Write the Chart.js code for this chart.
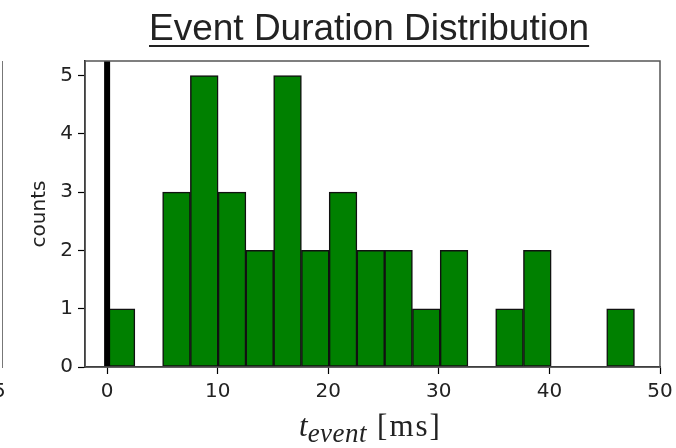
<!DOCTYPE html>
<html>
<head>
<meta charset="utf-8">
<script src="https://cdn.jsdelivr.net/npm/chart.js@4/dist/chart.umd.min.js"></script>
<style>
    html, body { margin: 0; padding: 0; background: #fff; }
    #wrap { position: relative; width: 676px; height: 448px; overflow: hidden; }
    #chart { position: absolute; left: 0; top: 0; }
    #title {
        position: absolute; left: 149px; top: 7px; white-space: nowrap;
        font-family: 'Liberation Sans', Arial, sans-serif; font-size: 37px; color: #222;
        text-decoration: underline; text-underline-offset: 5px; text-decoration-thickness: 2px;
    }
    #xlabel {
        position: absolute; left: 299px; top: 408px; white-space: nowrap;
        font-family: 'Liberation Serif', serif; color: #222;
    }
    #xlabel .t { font-style: italic; font-size: 31px; }
    #xlabel sub { font-style: italic; font-size: 27px; vertical-align: -6px; letter-spacing: 0.5px; }
    #xlabel .u { font-size: 31px; letter-spacing: 2px; margin-left: 6px; }
    #leftAxis { position: absolute; left: 2px; top: 61px; height: 307px; border-left: 1.5px solid #777; }
    #leftTick { position: absolute; left: -7px; top: 378px; font-family: 'DejaVu Sans', sans-serif; font-size: 20px; color: #222; }
</style>
</head>
<body>
<div id="wrap">
    <canvas id="chart" width="676" height="448"></canvas>
    <div id="leftAxis"></div>
    <div id="leftTick">5</div>
    <div id="title">Event Duration Distribution</div>
    <div id="xlabel"><span class="t">t</span><sub>event</sub> <span class="u">[ms]</span></div>
</div>
<script>
// histogram bins (left edges, ms) and counts
const binLeft = [0.00, 2.51, 5.02, 7.53, 10.04, 12.55, 15.06, 17.57, 20.08, 22.59,
                 25.10, 27.61, 30.12, 32.63, 35.14, 37.65, 40.16, 42.67, 45.18];
const binWidth = 2.51;
const counts = [1, 0, 3, 5, 3, 2, 5, 2, 3, 2, 2, 1, 2, 0, 1, 2, 0, 0, 1];

const xTicks = [0, 10, 20, 30, 40, 50];
const yTicks = [0, 1, 2, 3, 4, 5];
const markerX = 0;

const tickFont = { family: 'DejaVu Sans', size: 20 };

// only non-empty bins are drawn
const bars = [];
binLeft.forEach((left, i) => {
    if (counts[i] > 0) bars.push({ x: left + binWidth / 2, y: counts[i] });
});

const framePlugin = {
    id: 'frame',
    afterDatasetsDraw(chart) {
        const { ctx, chartArea: a } = chart;
        ctx.save();
        ctx.strokeStyle = '#555';
        ctx.lineWidth = 1.5;
        ctx.strokeRect(a.left, a.top, a.right - a.left, a.bottom - a.top);
        ctx.restore();
    }
};

new Chart(document.getElementById('chart').getContext('2d'), {
    type: 'bar',
    data: {
        datasets: [{
            type: 'line',
            data: [{ x: markerX, y: 0 }, { x: markerX, y: 5.25 }],
            borderColor: '#000',
            borderWidth: 6,
            pointRadius: 0,
            order: 0
        }, {
            type: 'bar',
            data: bars,
            backgroundColor: '#008000',
            borderColor: '#111',
            borderWidth: 1.5,
            borderSkipped: false,
            barPercentage: 1,
            categoryPercentage: 1,
            order: 1
        }]
    },
    options: {
        responsive: false,
        animation: false,
        layout: { padding: { left: 24, top: 61, right: 16, bottom: 0 } },
        plugins: {
            legend: { display: false },
            tooltip: { enabled: false }
        },
        scales: {
            x: {
                type: 'linear',
                min: -2,
                max: 50,
                offset: false,
                afterBuildTicks: s => { s.ticks = xTicks.map(v => ({ value: v })); },
                afterFit: s => { s.height = 81; s.paddingLeft = 0; s.paddingRight = 0; },
                ticks: { font: tickFont, color: '#222', padding: 6, maxRotation: 0, autoSkip: false },
                grid: { offset: false, drawOnChartArea: false, drawTicks: true, tickLength: 7, tickColor: '#000', tickWidth: 1.2 },
                border: { color: '#000', width: 1.5 }
            },
            y: {
                min: 0,
                max: 5.25,
                afterBuildTicks: s => { s.ticks = yTicks.map(v => ({ value: v })); },
                afterFit: s => { s.width = 61; },
                ticks: { font: tickFont, color: '#222', padding: 5 },
                grid: { drawOnChartArea: false, drawTicks: true, tickLength: 7, tickColor: '#000', tickWidth: 1.2 },
                border: { color: '#000', width: 1.5 },
                title: { display: true, text: 'counts', font: { family: 'DejaVu Sans', size: 20 }, color: '#222' }
            }
        }
    },
    plugins: [framePlugin]
});
</script>
</body>
</html>
